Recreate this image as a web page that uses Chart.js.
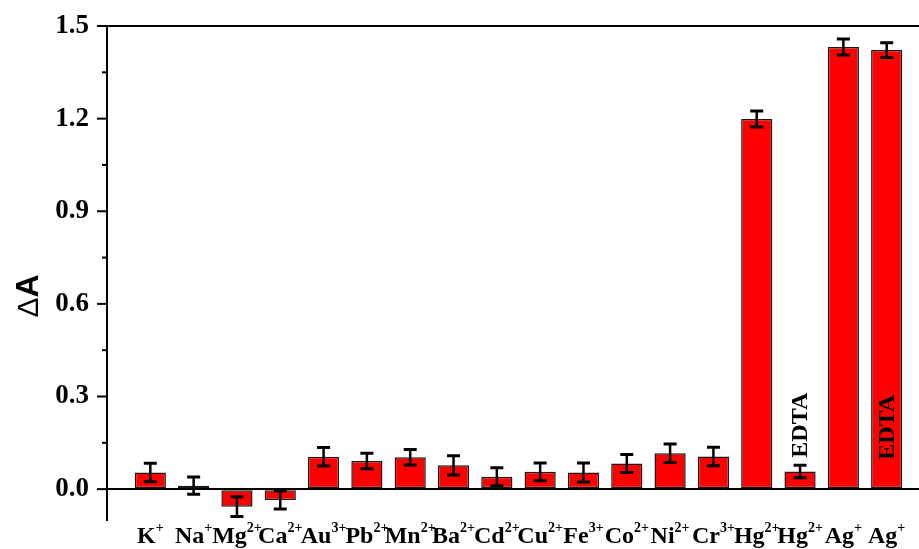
<!DOCTYPE html>
<html>
<head>
<meta charset="utf-8">
<script src="https://cdn.jsdelivr.net/npm/chart.js@4"></script>
<style>
  body { margin: 0; overflow: hidden; background: #fff; }
  canvas { display: block; }
</style>
</head>
<body>
<canvas id="chartIon" width="930" height="549"></canvas>
<script>
// ions and their charges (drawn as superscript)
const ions = ['K', 'Na', 'Mg', 'Ca', 'Au', 'Pb', 'Mn', 'Ba', 'Cd', 'Cu', 'Fe', 'Co', 'Ni', 'Cr', 'Hg', 'Hg', 'Ag', 'Ag'];
const charges = ['+', '+', '2+', '2+', '3+', '2+', '2+', '2+', '2+', '2+', '3+', '2+', '2+', '3+', '2+', '2+', '+', '+'];
const deltaA = [0.054, 0.011, -0.057, -0.035, 0.105, 0.091, 0.103, 0.077, 0.040, 0.056, 0.054, 0.083, 0.116, 0.106, 1.199, 0.057, 1.432, 1.422];
const errors = [0.030, 0.028, 0.032, 0.029, 0.030, 0.025, 0.025, 0.031, 0.029, 0.029, 0.031, 0.029, 0.030, 0.030, 0.026, 0.020, 0.026, 0.024];
const yTicks = [0, 0.3, 0.6, 0.9, 1.2, 1.5];
// EDTA notes: bar index and the y value where the text is centred
const edtaIndex = [15, 17];
const edtaY = [0.207, 0.2];

const labels = ['', ...ions.map((b, i) => b + charges[i]), ''];
const data = [null, ...deltaA, null];

const serif = "'Liberation Serif', 'Times New Roman', serif";

const ionPlugin = {
    id: 'ionPlugin',
    afterDatasetsDraw(chart) {
        const ctx = chart.ctx;
        const y = chart.scales.y;
        const meta = chart.getDatasetMeta(0);
        ctx.save();
        ctx.strokeStyle = '#000';
        deltaA.forEach((v, i) => {
            const bar = meta.data[i + 1];
            const top = y.getPixelForValue(v + errors[i]);
            const bot = y.getPixelForValue(v - errors[i]);
            ctx.lineWidth = 2.5;
            ctx.beginPath();
            ctx.moveTo(bar.x, top);
            ctx.lineTo(bar.x, bot);
            ctx.stroke();
            ctx.lineWidth = 3;
            ctx.beginPath();
            ctx.moveTo(bar.x - 6.5, top);
            ctx.lineTo(bar.x + 6.5, top);
            ctx.moveTo(bar.x - 6.5, bot);
            ctx.lineTo(bar.x + 6.5, bot);
            ctx.stroke();
        });
        ctx.restore();
    },
    afterDraw(chart) {
        const ctx = chart.ctx;
        const x = chart.scales.x;
        const y = chart.scales.y;
        const area = chart.chartArea;
        ctx.save();
        ctx.fillStyle = '#000';
        ctx.strokeStyle = '#000';
        ctx.lineWidth = 2;

        // y tick marks, major and minor
        yTicks.forEach((t, i) => {
            const py = y.getPixelForValue(t);
            ctx.beginPath();
            ctx.moveTo(area.left - 10, py);
            ctx.lineTo(area.left, py);
            ctx.stroke();
            if (i < yTicks.length - 1) {
                const pm = y.getPixelForValue((t + yTicks[i + 1]) / 2);
                ctx.beginPath();
                ctx.moveTo(area.left - 5, pm);
                ctx.lineTo(area.left, pm);
                ctx.stroke();
            }
        });

        // x labels with superscript charges
        ctx.textBaseline = 'alphabetic';
        ctx.textAlign = 'left';
        ions.forEach((b, i) => {
            const cx = x.getPixelForValue(i + 1);
            ctx.font = 'bold 24px ' + serif;
            const wb = ctx.measureText(b).width;
            ctx.font = 'bold 14px ' + serif;
            const ws = ctx.measureText(charges[i]).width;
            const sx = cx - (wb + ws) / 2;
            ctx.font = 'bold 24px ' + serif;
            ctx.fillText(b, sx, 543);
            ctx.font = 'bold 14px ' + serif;
            ctx.fillText(charges[i], sx + wb, 532);
        });

        // EDTA notes
        ctx.font = 'bold 24px ' + serif;
        ctx.textAlign = 'center';
        ctx.textBaseline = 'middle';
        edtaIndex.forEach((k, j) => {
            const px = x.getPixelForValue(k + 1);
            const py = y.getPixelForValue(edtaY[j]);
            ctx.save();
            ctx.translate(px + 1, py);
            ctx.rotate(-Math.PI / 2);
            ctx.fillText('EDTA', 0, 0);
            ctx.restore();
        });

        // y title: ΔA
        ctx.save();
        ctx.translate(38, 296);
        ctx.rotate(-Math.PI / 2);
        ctx.textAlign = 'left';
        ctx.textBaseline = 'alphabetic';
        ctx.font = '30px "Liberation Sans", Arial, sans-serif';
        const wd = ctx.measureText('\u0394').width;
        ctx.font = 'bold 32px "Liberation Sans", Arial, sans-serif';
        const wa = ctx.measureText('A').width;
        ctx.font = '30px "Liberation Sans", Arial, sans-serif';
        ctx.fillText('\u0394', -(wd + wa) / 2, 0);
        ctx.font = 'bold 32px "Liberation Sans", Arial, sans-serif';
        ctx.fillText('A', -(wd + wa) / 2 + wd, 0);
        ctx.restore();

        ctx.restore();
    }
};

const chartIon = new Chart(document.getElementById('chartIon').getContext('2d'), {
    type: 'bar',
    data: {
        labels: labels,
        datasets: [{
            data: data,
            backgroundColor: '#ff0000',
            borderColor: '#1a1a1a',
            borderWidth: 1.5,
            borderSkipped: false,
            categoryPercentage: 1,
            barPercentage: 0.72
        }]
    },
    options: {
        responsive: false,
        animation: false,
        layout: { padding: { top: 26, left: 0, right: 0, bottom: 0 } },
        plugins: {
            legend: { display: false },
            tooltip: { enabled: false }
        },
        scales: {
            x: {
                type: 'category',
                offset: false,
                grid: { display: false },
                border: { display: false },
                ticks: { display: false },
                afterFit: (s) => { s.height = 29; }
            },
            y: {
                min: -0.1,
                max: 1.5,
                afterBuildTicks: (s) => { s.ticks = yTicks.map(v => ({ value: v })); },
                afterFit: (s) => { s.width = 107; },
                ticks: {
                    padding: 0,
                    color: '#000',
                    font: { family: serif, size: 27, weight: 'bold', lineHeight: 1 },
                    callback: (v) => Number(v).toFixed(1)
                },
                grid: {
                    drawTicks: true,
                    tickLength: 18,
                    tickColor: 'rgba(0,0,0,0)',
                    lineWidth: 2,
                    color: (c) => (c.tick && (c.tick.value === 0 || c.tick.value === 1.5)) ? '#000' : 'rgba(0,0,0,0)'
                },
                border: { display: true, color: '#000', width: 2 }
            }
        }
    },
    plugins: [ionPlugin]
});
</script>
</body>
</html>
